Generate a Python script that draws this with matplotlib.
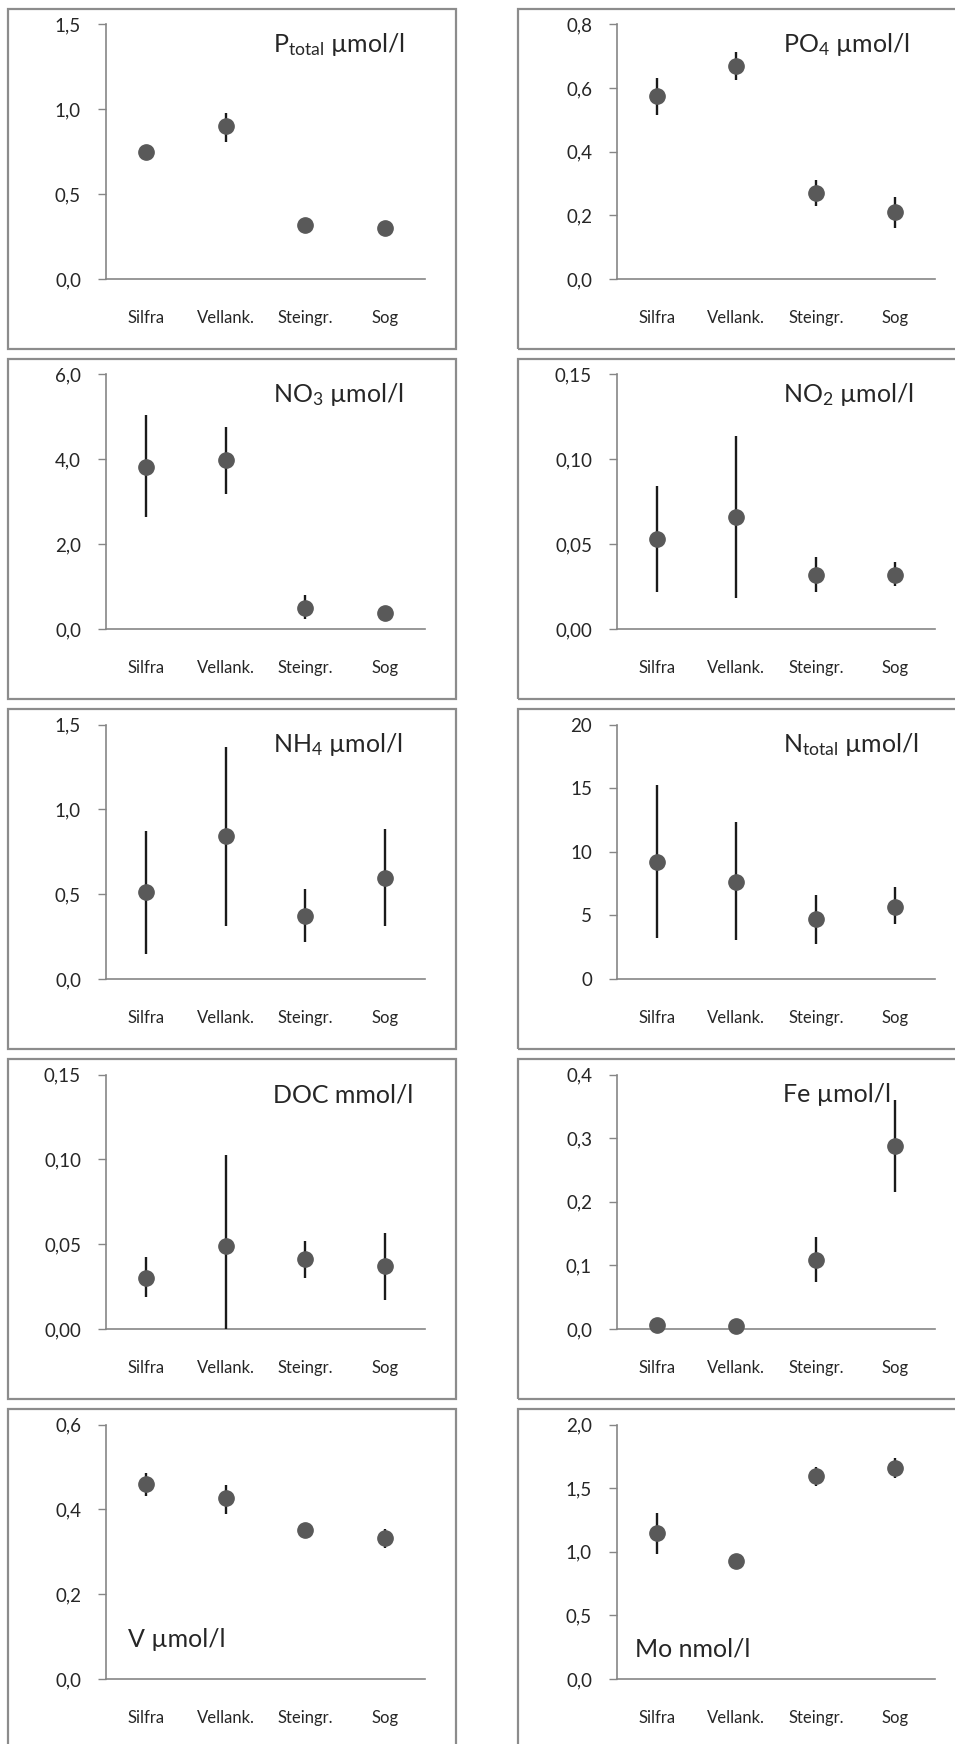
import matplotlib
matplotlib.use("Agg")
import matplotlib.pyplot as plt
from matplotlib.patches import Rectangle

plt.rcParams["font.family"] = ["Lato", "DejaVu Sans"]
plt.rcParams["mathtext.fontset"] = "custom"
plt.rcParams["mathtext.rm"] = "Lato"
plt.rcParams["mathtext.it"] = "Lato"

# Stations
sites = ["Silfra", "Vellank.", "Steingr.", "Sog"]

# Mean, lower and upper limits for each parameter
ptot_mean = [0.75, 0.90, 0.32, 0.30]
ptot_low = [0.73, 0.81, 0.30, 0.28]
ptot_high = [0.77, 0.98, 0.34, 0.32]

po4_mean = [0.575, 0.669, 0.269, 0.211]
po4_low = [0.514, 0.626, 0.230, 0.159]
po4_high = [0.631, 0.713, 0.310, 0.259]

no3_mean = [3.83, 3.99, 0.49, 0.37]
no3_low = [2.63, 3.18, 0.23, 0.30]
no3_high = [5.05, 4.77, 0.80, 0.44]

no2_mean = [0.053, 0.066, 0.032, 0.032]
no2_low = [0.022, 0.018, 0.022, 0.0254]
no2_high = [0.084, 0.1135, 0.0427, 0.0394]

nh4_mean = [0.51, 0.845, 0.373, 0.598]
nh4_low = [0.147, 0.313, 0.217, 0.313]
nh4_high = [0.873, 1.367, 0.531, 0.887]

ntot_mean = [9.23, 7.66, 4.70, 5.69]
ntot_low = [3.20, 3.07, 2.75, 4.30]
ntot_high = [15.26, 12.30, 6.61, 7.24]

doc_mean = [0.030, 0.049, 0.041, 0.037]
doc_low = [0.019, 0.0, 0.030, 0.017]
doc_high = [0.0425, 0.1027, 0.052, 0.0568]

fe_mean = [0.006, 0.005, 0.109, 0.287]
fe_low = [0.003, 0.003, 0.074, 0.215]
fe_high = [0.009, 0.007, 0.144, 0.360]

v_mean = [0.459, 0.426, 0.351, 0.333]
v_low = [0.431, 0.390, 0.340, 0.308]
v_high = [0.486, 0.457, 0.362, 0.354]

mo_mean = [1.145, 0.931, 1.595, 1.655]
mo_low = [0.986, 0.90, 1.516, 1.582]
mo_high = [1.307, 0.96, 1.668, 1.733]

# Panel labels, y max, tick step, decimals
labels = [r"P$_{\mathrm{total}}$ µmol/l", r"PO$_{4}$ µmol/l",
          r"NO$_{3}$ µmol/l", r"NO$_{2}$ µmol/l",
          r"NH$_{4}$ µmol/l", r"N$_{\mathrm{total}}$ µmol/l",
          "DOC mmol/l", "Fe µmol/l",
          "V µmol/l", "Mo nmol/l"]
ymax = [1.5, 0.8, 6.0, 0.15, 1.5, 20, 0.15, 0.4, 0.6, 2.0]
ystep = [0.5, 0.2, 2.0, 0.05, 0.5, 5, 0.05, 0.1, 0.2, 0.5]
decimals = [1, 1, 1, 2, 1, 0, 2, 1, 1, 1]

means = [ptot_mean, po4_mean, no3_mean, no2_mean, nh4_mean,
         ntot_mean, doc_mean, fe_mean, v_mean, mo_mean]
lows = [ptot_low, po4_low, no3_low, no2_low, nh4_low,
        ntot_low, doc_low, fe_low, v_low, mo_low]
highs = [ptot_high, po4_high, no3_high, no2_high, nh4_high,
         ntot_high, doc_high, fe_high, v_high, mo_high]

W, H = 955, 1744
fig = plt.figure(figsize=(W / 100, H / 100), dpi=100)

grey = "#8c8c8c"
for k in range(10):
    row, col = k // 2, k % 2
    box_top = 9 + 350 * row
    box_left = 8 if col == 0 else 518
    ax_left = 106 if col == 0 else 617
    ax_w = 319 if col == 0 else 318
    ax_top = box_top + 15.5
    ax_bot = box_top + 270

    # box around each panel
    fig.patches.append(Rectangle((box_left / W, 1 - (box_top + 340) / H), 448 / W, 340 / H,
                                 transform=fig.transFigure, fill=False,
                                 edgecolor=grey, linewidth=1.6, zorder=0))

    ax = fig.add_axes([ax_left / W, 1 - ax_bot / H, ax_w / W, (ax_bot - ax_top) / H])
    x = list(range(len(sites)))
    m = means[k]
    yerr = [[m[i] - lows[k][i] for i in x], [highs[k][i] - m[i] for i in x]]
    ax.errorbar(x, m, yerr=yerr, fmt="o", color="#595959", markersize=11,
                ecolor="#1a1a1a", elinewidth=1.7, capsize=0, clip_on=False, zorder=3)

    ax.set_xlim(-0.5, 3.5)
    ax.set_ylim(0, ymax[k])
    n = int(round(ymax[k] / ystep[k]))
    ticks = [i * ystep[k] for i in range(n + 1)]
    ax.set_yticks(ticks)
    ax.set_yticklabels([f"{t:.{decimals[k]}f}".replace(".", ",") for t in ticks],
                       fontsize=13.5, color="#262626")
    ax.set_xticks(x)
    ax.set_xticklabels(sites, fontsize=12, color="#262626")
    ax.tick_params(axis="x", length=0, pad=22)
    ax.tick_params(axis="y", length=6, width=1, color="#868686", pad=12, direction="out")
    for s in ["top", "right"]:
        ax.spines[s].set_visible(False)
    for s in ["left", "bottom"]:
        ax.spines[s].set_color("#868686")
        ax.spines[s].set_linewidth(1.2)
    ax.patch.set_alpha(0)

    if k < 8:
        ax.text(0.522, 0.89, labels[k], transform=ax.transAxes, ha="left",
                va="baseline", fontsize=18, color="#262626")
    elif k == 8:
        ax.text(0.07, 0.125, labels[k], transform=ax.transAxes, ha="left",
                va="baseline", fontsize=18, color="#262626")
    else:
        ax.text(0.057, 0.09, labels[k], transform=ax.transAxes, ha="left",
                va="baseline", fontsize=18, color="#262626")

fig.savefig("out.png", dpi=100, facecolor="white")
